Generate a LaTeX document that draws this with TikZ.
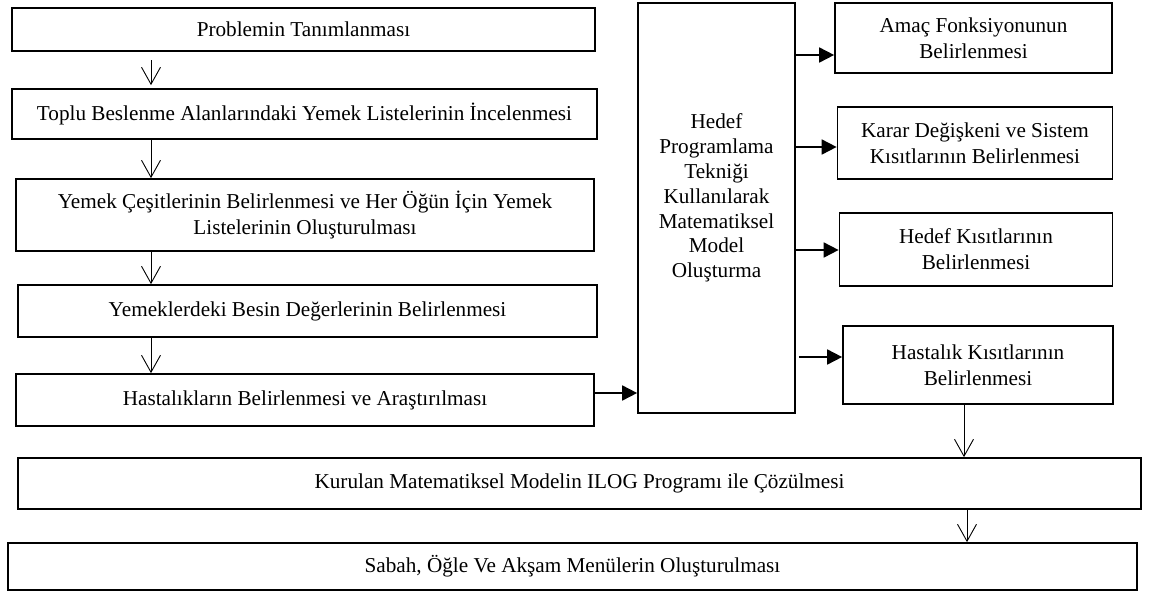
\documentclass[tikz,border=0pt]{standalone}
\usepackage{fontspec}
\setmainfont{Liberation Serif}
\usetikzlibrary{arrows.meta}
\begin{document}
\begin{tikzpicture}[x=1pt,y=-1pt,
  box/.style={draw, line width=1.7pt, rectangle, inner sep=0pt, align=center,
    font=\fontsize{21.2}{25.8}\selectfont},
  varrow/.style={line width=0.9pt, -{Straight Barb[length=17pt,width=19pt,line width=0.9pt]}},
  harrow/.style={line width=1.8pt, -{Triangle[length=15pt,width=15pt]}},
  txt/.style={align=center, inner sep=0pt, font=\fontsize{21.2}{24.8}\selectfont}]
\useasboundingbox (0,0) rectangle (1152,592);
% left column
\node[box, minimum width=583pt, minimum height=43pt] (b1) at (303.5,29.5) {Problemin Tanımlanması};
\node[box, minimum width=585pt, minimum height=50pt] (b2) at (304.5,114) {Toplu Beslenme Alanlarındaki Yemek Listelerinin İncelenmesi};
\node[box, minimum width=578pt, minimum height=72pt] (b3) at (305,215) {Yemek Çeşitlerinin Belirlenmesi ve Her Öğün İçin Yemek\\Listelerinin Oluşturulması};
\node[box, minimum width=579pt, minimum height=52pt] (b4) at (307.5,311) {Yemeklerdeki Besin Değerlerinin Belirlenmesi};
\node[box, minimum width=578pt, minimum height=52pt] (b5) at (305,400) {Hastalıkların Belirlenmesi ve Araştırılması};
% central box
\node[box, minimum width=157pt, minimum height=410pt] (big) at (716.5,208) {};
\node[txt] (bigtext) at (716.5,198) {Hedef\\Programlama\\Tekniği\\Kullanılarak\\Matematiksel\\Model\\Oluşturma};
% right column
\node[box, minimum width=277pt, minimum height=70pt] (ra) at (973.5,38) {Amaç Fonksiyonunun\\Belirlenmesi};
\node[box, minimum width=275pt, minimum height=72pt] (rb) at (975,143) {Karar Değişkeni ve Sistem\\Kısıtlarının Belirlenmesi};
\node[box, minimum width=273pt, minimum height=73pt] (rc) at (976,249.5) {Hedef Kısıtlarının\\Belirlenmesi};
\node[box, minimum width=270pt, minimum height=78pt] (rd) at (978,365) {Hastalık Kısıtlarının\\Belirlenmesi};
% bottom
\node[box, minimum width=1123pt, minimum height=51pt] (bk) at (579.5,483.5) {Kurulan Matematiksel Modelin ILOG Programı ile Çözülmesi};
\node[box, minimum width=1129pt, minimum height=47pt] (bs) at (572.5,566.5) {Sabah, Öğle Ve Akşam Menülerin Oluşturulması};
% vertical connectors
\coordinate (s1) at (151,60);
\draw[varrow, shorten >=3pt] (s1) -- (s1 |- b2.north);
\draw[varrow] (b2.south -| s1) -- (b3.north -| s1);
\draw[varrow] (b3.south -| s1) -- (b4.north -| s1);
\draw[varrow] (b4.south -| s1) -- (b5.north -| s1);
\coordinate (s2) at (964,0);
\draw[varrow] (rd.south -| s2) -- (bk.north -| s2);
\coordinate (s3) at (967,0);
\draw[varrow] (bk.south -| s3) -- (bs.north -| s3);
% horizontal connectors
\coordinate (h5) at (0,393);
\draw[harrow] (b5.east |- h5) -- (big.west |- h5);
\coordinate (ha) at (0,55);
\draw[harrow] (big.east |- ha) -- (ra.west |- ha);
\coordinate (hb) at (0,147);
\draw[harrow] (big.east |- hb) -- (rb.west |- hb);
\coordinate (hc) at (0,250);
\draw[harrow] (big.east |- hc) -- (rc.west |- hc);
\coordinate (hd) at (0,357);
\draw[harrow, shorten <=3pt] (big.east |- hd) -- (rd.west |- hd);
\end{tikzpicture}
\end{document}
